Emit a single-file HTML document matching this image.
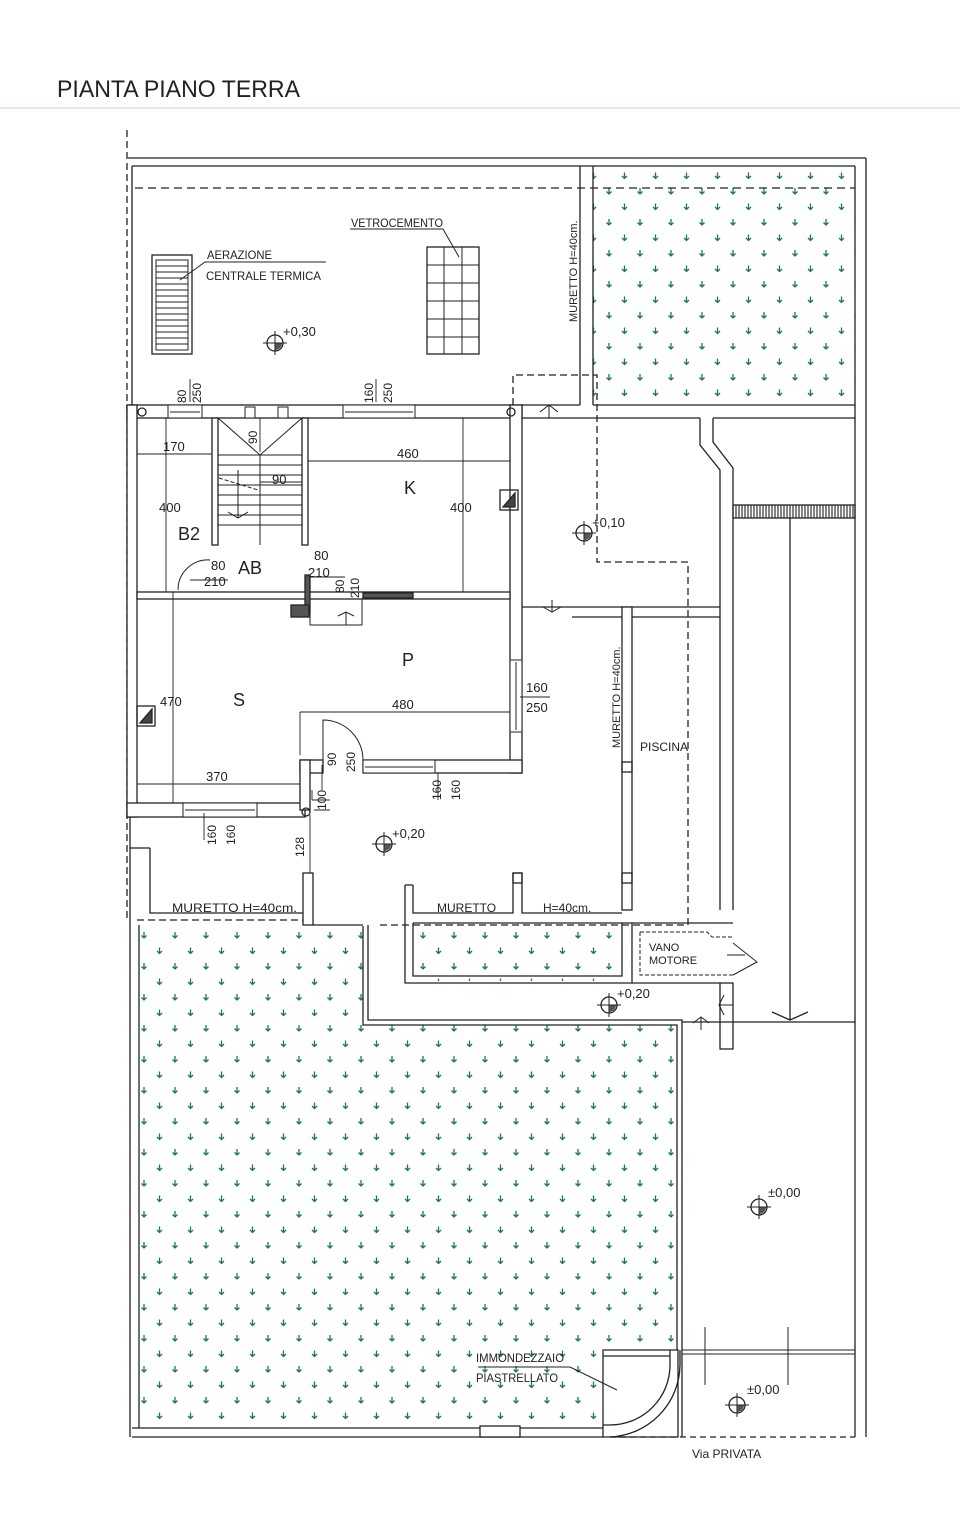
<!DOCTYPE html>
<html><head><meta charset="utf-8"><style>
html,body{margin:0;padding:0;background:#fff;}
svg{display:block;}
text{font-family:"Liberation Sans",sans-serif;fill:#222;}
</style></head><body>
<svg width="960" height="1536" viewBox="0 0 960 1536" xmlns="http://www.w3.org/2000/svg">
<defs>
<pattern id="g" x="140" y="930" width="31" height="31" patternUnits="userSpaceOnUse">
<g stroke="#1d7a4d" stroke-width="1.3" fill="none">
<path d="M4 2v6M1.5 5.5L4 8l2.5-2.5"/>
<path d="M19.5 17.5v6M17 21l2.5 2.5L22 21"/>
</g>
</pattern>
<pattern id="hatch" width="3" height="10" patternUnits="userSpaceOnUse"><rect width="3" height="10" fill="#fff"/><line x1="1" y1="0" x2="1" y2="10" stroke="#333" stroke-width="1.2"/></pattern>
<g id="lvl"><circle r="8" fill="none" stroke="#222" stroke-width="1.3"/><path d="M0 0h7A7 7 0 0 1 0 7z" fill="#555"/><line x1="-12" y1="0" x2="12" y2="0" stroke="#222"/><line x1="0" y1="-12" x2="0" y2="12" stroke="#222"/></g>
</defs>
<rect width="960" height="1536" fill="#fff"/>
<line x1="0" y1="108" x2="960" y2="108" stroke="#e8d8ea" stroke-width="1.5"/>
<text x="57" y="97" font-size="24" textLength="243" lengthAdjust="spacingAndGlyphs">PIANTA  PIANO TERRA</text>

<g fill="none" stroke="#222" stroke-width="1.3">
<rect x="593" y="168" width="262" height="236" fill="url(#g)" stroke="none"/>
<polygon points="139,926 363,926 363,1025 680,1025 680,1352 603,1352 603,1428 139,1428" fill="url(#g)" stroke="none"/>
<rect x="413" y="925" width="209" height="56" fill="url(#g)" stroke="none"/>

<line x1="128" y1="158" x2="866" y2="158"/>
<line x1="132" y1="166" x2="855" y2="166"/>
<line x1="866" y1="158" x2="866" y2="1437"/>
<line x1="855" y1="166" x2="855" y2="1437"/>
<line x1="127" y1="130" x2="127" y2="920" stroke-dasharray="7,4"/>
<line x1="132" y1="166" x2="132" y2="405"/>
<line x1="135" y1="188" x2="855" y2="188" stroke-dasharray="8,5"/>
<line x1="580" y1="166" x2="580" y2="405"/>
<line x1="593" y1="166" x2="593" y2="405"/>
<line x1="593" y1="405" x2="855" y2="405"/>
<line x1="522" y1="405" x2="580" y2="405"/>
<line x1="522" y1="418" x2="700" y2="418"/>
<line x1="713" y1="418" x2="855" y2="418"/>
<path d="M700 418V445L720 470V910"/>
<path d="M713 418V442L733 468V910"/>
<rect x="733" y="505" width="122" height="13" fill="url(#hatch)"/>
<line x1="790" y1="518" x2="790" y2="1020"/>
<path d="M772 1012L790 1020L808 1012"/>
<path d="M513 405V375H597V562H688V925H380" stroke-dasharray="7,4"/>
<path d="M137 920H310" stroke-dasharray="7,4"/>
<rect x="152" y="255" width="40" height="99"/>
<g stroke-width="1">
<rect x="156" y="260" width="32" height="90"/>
<path d="M156 266h32M156 272h32M156 278h32M156 284h32M156 290h32M156 296h32M156 302h32M156 308h32M156 314h32M156 320h32M156 326h32M156 332h32M156 338h32M156 344h32"/>
<path d="M180 280L205 262H326"/>
<path d="M350 229H443L459 257"/>
</g>
<rect x="427" y="247" width="52" height="107"/>
<path d="M444 247v107M462 247v107M427 265h52M427 283h52M427 301h52M427 319h52M427 337h52" stroke-width="1"/>

<g fill="#fff">
<rect x="127" y="405" width="395" height="13"/>
<rect x="127" y="405" width="10" height="412"/>
<rect x="510" y="405" width="12" height="368"/>
<rect x="137" y="592" width="373" height="7"/>
<rect x="127" y="803" width="178" height="14"/>
<rect x="300" y="760" width="23" height="13"/>
<rect x="363" y="760" width="159" height="13"/>
<rect x="300" y="760" width="10" height="50"/>
<rect x="212" y="418" width="6" height="127"/>
<rect x="302" y="418" width="6" height="127"/>
</g>
<g stroke-width="1">
<rect x="168" y="405" width="34" height="13" fill="#fff"/><line x1="170" y1="412" x2="200" y2="412"/>
<rect x="343" y="405" width="72" height="13" fill="#fff"/><line x1="345" y1="412" x2="413" y2="412"/>
<rect x="183" y="803" width="74" height="14" fill="#fff"/><line x1="185" y1="810" x2="255" y2="810"/>
<rect x="363" y="760" width="72" height="13" fill="#fff"/><line x1="365" y1="767" x2="433" y2="767"/>
<rect x="510" y="660" width="12" height="72" fill="#fff"/><line x1="516" y1="662" x2="516" y2="730"/>
<rect x="245" y="407" width="10" height="11" fill="#fff"/><rect x="278" y="407" width="10" height="11" fill="#fff"/>
</g>
<g stroke-width="1">
<path d="M218 418L260 455L302 418M260 455V545"/>
<path d="M218 455h84M218 465h84M218 475h84M218 485h84M218 495h84M218 505h84M218 515h84M218 525h84"/>
<path d="M219 478L258 490" stroke-dasharray="4,2"/>
<path d="M228 512L238 518L248 512M238 470V518"/>
</g>
<path d="M178 590A30 30 0 0 1 210 560" stroke-width="1"/>
<path d="M323 760V720A40 40 0 0 1 363 760" stroke-width="1"/>
<rect x="305" y="575" width="5" height="38" fill="#555"/>
<rect x="291" y="605" width="18" height="12" fill="#555"/>
<path d="M310 599V625H362V599" stroke-width="1"/>
<path d="M338 616L346 612L354 616M346 612V625" stroke-width="1"/>
<rect x="363" y="593" width="50" height="5" fill="#555"/>
<rect x="500" y="490" width="18" height="20"/><path d="M503 507h12V493z" fill="#444"/>
<rect x="137" y="706" width="18" height="20"/><path d="M140 723h12V709z" fill="#444"/>
<circle cx="142" cy="412" r="4"/><circle cx="511" cy="412" r="4"/><circle cx="306" cy="812" r="4"/>
<g stroke-width="0.9">
<path d="M137 454H212M308 461H510M166 418V592M463 418V592M173 592V803M137 784H300M300 712H510M300 712V755M260 482H302M260 418V452"/>
<path d="M312 800H330M312 800V790M310 815V873M314 810H330"/>
<path d="M190 580H228M310 577H345"/>
<path d="M190 379V402M376 379V402M204 813V840M438 773V800M520 697H550"/>
<path d="M322 765V790"/>
</g>
<path d="M540 412L549 405L558 412M549 405V418" stroke-width="1"/>
<path d="M543 607L552 612L561 607M552 600V612" stroke-width="1"/>
<line x1="522" y1="607" x2="720" y2="607"/>
<line x1="572" y1="617" x2="720" y2="617"/>
<rect x="622" y="607" width="10" height="303" fill="#fff"/>
<rect x="622" y="762" width="10" height="10"/><rect x="622" y="873" width="10" height="10"/>
<path d="M130 817V1437M139 925V1428"/>
<path d="M150 848V913H303M130 848H150"/>
<rect x="303" y="873" width="10" height="52" fill="#fff"/>
<path d="M313 925H363"/>
<path d="M405 885V983H720M413 885V913H513V873H522V913H622M405 885H413"/>
<rect x="513" y="873" width="9" height="10"/>
<path d="M413 923H733M413 923V976H622V923M632 923V983"/>
<path d="M640 932H707L712 937H733M640 932V975H733" stroke-dasharray="4,2" stroke-width="1"/>
<path d="M733 943L757 962L733 975" stroke-width="1"/>
<path d="M727 955H745" stroke-width="1"/>
<rect x="720" y="983" width="13" height="66" fill="#fff"/>
<path d="M724 995L719 1005L724 1015M720 1005H733" stroke-width="1"/>
<path d="M693 1023L701 1017L709 1023M701 1017V1030" stroke-width="1"/>
<path d="M363 926V1025H677V1350"/>
<path d="M368 925V1020H682V1437"/>
<path d="M682 1022H855"/>
<path d="M132 1428H603M132 1437H603"/>
<rect x="480" y="1426" width="40" height="11" fill="#fff"/>
<path d="M603 1350H678V1437H603Z" fill="#fff"/>
<path d="M603 1356H670"/>
<path d="M670 1350V1365A60 60 0 0 1 610 1425H603"/>
<path d="M680 1350V1365A73 73 0 0 1 610 1437"/>
<path d="M610 1437H855" stroke-dasharray="6,4"/>
<path d="M682 1350H855M682 1354H855" stroke-width="1"/>
<path d="M705 1327V1385M788 1327V1385" stroke-width="1"/>
<path d="M478 1367H570L617 1390" stroke-width="1"/>
</g>

<use href="#lvl" x="275" y="343"/>
<use href="#lvl" x="584" y="533"/>
<use href="#lvl" x="384" y="844"/>
<use href="#lvl" x="609" y="1005"/>
<use href="#lvl" x="759" y="1207"/>
<use href="#lvl" x="737" y="1405"/>

<g font-size="13">
<text x="283" y="336">+0,30</text>
<text x="592" y="527">+0,10</text>
<text x="392" y="838">+0,20</text>
<text x="617" y="998">+0,20</text>
<text x="768" y="1197">±0,00</text>
<text x="747" y="1394">±0,00</text>
<text x="207" y="259" font-size="12" textLength="65" lengthAdjust="spacingAndGlyphs">AERAZIONE</text>
<text x="206" y="280" font-size="12" textLength="115" lengthAdjust="spacingAndGlyphs">CENTRALE  TERMICA</text>
<text x="351" y="227" font-size="12" textLength="92" lengthAdjust="spacingAndGlyphs">VETROCEMENTO</text>
<text x="163" y="451">170</text>
<text x="397" y="458">460</text>
<text x="159" y="512">400</text>
<text x="450" y="512">400</text>
<text x="272" y="484">90</text>
<text x="178" y="540" font-size="18">B2</text>
<text x="238" y="574" font-size="18">AB</text>
<text x="404" y="494" font-size="18">K</text>
<text x="402" y="666" font-size="18">P</text>
<text x="233" y="706" font-size="18">S</text>
<text x="160" y="706">470</text>
<text x="392" y="709">480</text>
<text x="206" y="781">370</text>
<text x="211" y="570">80</text><text x="204" y="586">210</text>
<text x="314" y="560">80</text><text x="308" y="577">210</text>
<text x="526" y="692">160</text><text x="526" y="712">250</text>
<text x="640" y="751" font-size="12">PISCINA</text>
<text x="172" y="912" font-size="12" textLength="125" lengthAdjust="spacingAndGlyphs">MURETTO  H=40cm.</text>
<text x="437" y="912" font-size="12">MURETTO</text>
<text x="543" y="912" font-size="12">H=40cm.</text>
<text x="649" y="951" font-size="11">VANO</text>
<text x="649" y="964" font-size="11">MOTORE</text>
<text x="476" y="1362" font-size="12" textLength="88" lengthAdjust="spacingAndGlyphs">IMMONDEZZAIO</text>
<text x="476" y="1382" font-size="12" textLength="82" lengthAdjust="spacingAndGlyphs">PIASTRELLATO</text>
<text x="692" y="1458" font-size="12">Via  PRIVATA</text>
<g font-size="12">
<text transform="translate(186 403) rotate(-90)">80</text>
<text transform="translate(201 403) rotate(-90)">250</text>
<text transform="translate(373 403) rotate(-90)">160</text>
<text transform="translate(392 403) rotate(-90)">250</text>
<text transform="translate(257 444) rotate(-90)">90</text>
<text transform="translate(344 593) rotate(-90)">80</text>
<text transform="translate(359 598) rotate(-90)">210</text>
<text transform="translate(336 766) rotate(-90)">90</text>
<text transform="translate(355 772) rotate(-90)">250</text>
<text transform="translate(326 810) rotate(-90)">100</text>
<text transform="translate(304 857) rotate(-90)">128</text>
<text transform="translate(216 845) rotate(-90)">160</text>
<text transform="translate(235 845) rotate(-90)">160</text>
<text transform="translate(441 800) rotate(-90)">160</text>
<text transform="translate(460 800) rotate(-90)">160</text>
<text transform="translate(577 322) rotate(-90)" font-size="11">MURETTO  H=40cm.</text>
<text transform="translate(620 748) rotate(-90)" font-size="11">MURETTO  H=40cm.</text>
</g>
</g>
</svg>
</body></html>
